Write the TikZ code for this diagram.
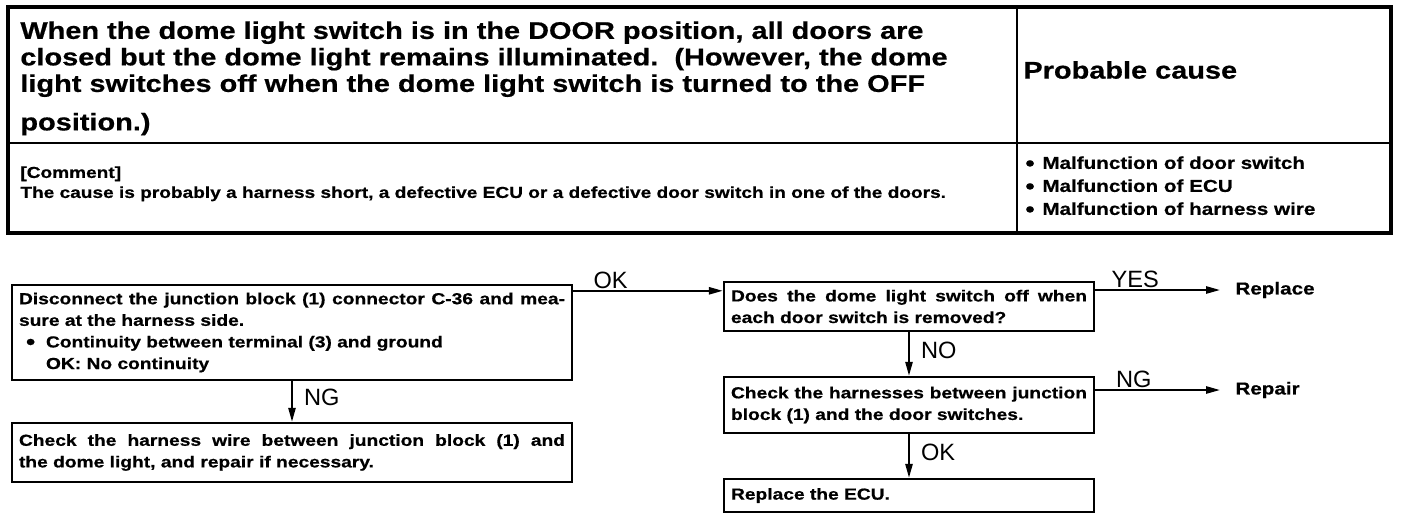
\documentclass[tikz,border=0pt]{standalone}
\usepackage{fontspec}
\setmainfont{Liberation Sans}
\newfontfamily\widefont[FakeStretch=1.2, BoldFeatures={FakeBold=0.6}]{Liberation Sans}
\usetikzlibrary{arrows.meta}
\newcommand{\bul}{\raisebox{-0.9pt}{\fontsize{11}{11}\selectfont\textbullet}}

\begin{document}
\begin{tikzpicture}[x=0.5pt, y=-0.5pt,
  box/.style={draw, line width=1.2pt, inner xsep=3.5pt, inner ysep=2pt, align=justify, font=\widefont\bfseries\fontsize{8}{10.8}\selectfont},
  txt/.style={inner sep=0pt, anchor=north west, align=left},
  res/.style={inner xsep=7.5pt, inner ysep=0pt, anchor=west, font=\widefont\bfseries\fontsize{8.6}{10}\selectfont},
  arrow/.style={-{Triangle[length=7pt, width=3.6pt]}, line width=1pt},
  lab/.style={font=\fontsize{11.8}{12}\selectfont, inner sep=0.5pt}
]
  \useasboundingbox (0,0) rectangle (1408,520);

  % table
  \draw[line width=1.6pt] (8,7) rectangle (1391,233);
  \draw[line width=1pt] (8,143) -- (1391,143);
  \draw[line width=1pt] (1017,7) -- (1017,233);

  \node[txt, font=\widefont\bfseries\fontsize{12.05}{13.25}\selectfont] (t1) at (20,21)
    {When the dome light switch is in the DOOR position, all doors are\\
     closed but the dome light remains illuminated.\ \ (However, the dome\\
     light switches off when the dome light switch is turned to the OFF\\[6pt]
     position.)};
  \node[anchor=west, inner sep=0pt, font=\widefont\bfseries\fontsize{12.05}{13}\selectfont] (t2) at (1023,70) {Probable cause};
  \node[txt, font=\widefont\bfseries\fontsize{7.95}{10}\selectfont] (t3) at (20,166)
    {[Comment]\\The cause is probably a harness short, a defective ECU or a defective door switch in one of the doors.};
  \node[txt, font=\widefont\bfseries\fontsize{8.6}{11.5}\selectfont] (t4) at (1025,156)
    {\makebox[8.5pt][l]{\bul}Malfunction of door switch\\
     \makebox[8.5pt][l]{\bul}Malfunction of ECU\\
     \makebox[8.5pt][l]{\bul}Malfunction of harness wire};

  % flowchart
  \node[box, text width=273pt, minimum height=47.5pt] (n1) at (292,332.5)
    {Disconnect the junction block (1) connector C-36 and mea-\linebreak sure at the harness side.\newline
     \hspace*{3.5pt}\makebox[10pt][l]{\bul}Continuity between terminal (3) and ground\newline
     \hspace*{13.5pt}OK: No continuity};
  \node[box, text width=273pt, minimum height=29.5pt] (n5) at (292,452.5)
    {Check the harness wire between junction block (1) and\linebreak the dome light, and repair if necessary.};
  \node[box, text width=178pt, minimum height=24.5pt] (n2) at (909,306.5)
    {Does the dome light switch off when\linebreak each door switch is removed?};
  \node[box, text width=178pt, minimum height=28pt] (n3) at (909,405)
    {Check the harnesses between junction\linebreak block (1) and the door switches.};
  \node[box, text width=178pt, minimum height=16.5pt] (n4) at (909,495.5) {Replace the ECU.};
  \node[res] (rp) at (1220,290) {Replace};
  \node[res] (rr) at (1220,390) {Repair};

  \draw[arrow] ([yshift=-3.5pt]n1.north east) -- node[lab, above, pos=0.25] {OK} ([yshift=-3.5pt]n1.north east -| n2.west);
  \draw[arrow] (n2.east |- rp.west) -- node[lab, above, pos=0.32] {YES} (rp.west);
  \draw[arrow] (n3.east |- rr.west) -- node[lab, above, pos=0.31] {NG} (rr.west);
  \draw[arrow] (n1) -- node[lab, right, xshift=5pt, yshift=2pt] {NG} (n5);
  \draw[arrow] (n2) -- node[lab, right, xshift=5pt, yshift=2pt] {NO} (n3);
  \draw[arrow] (n3) -- node[lab, right, xshift=5pt, yshift=2pt] {OK} (n4);
\end{tikzpicture}
\end{document}
